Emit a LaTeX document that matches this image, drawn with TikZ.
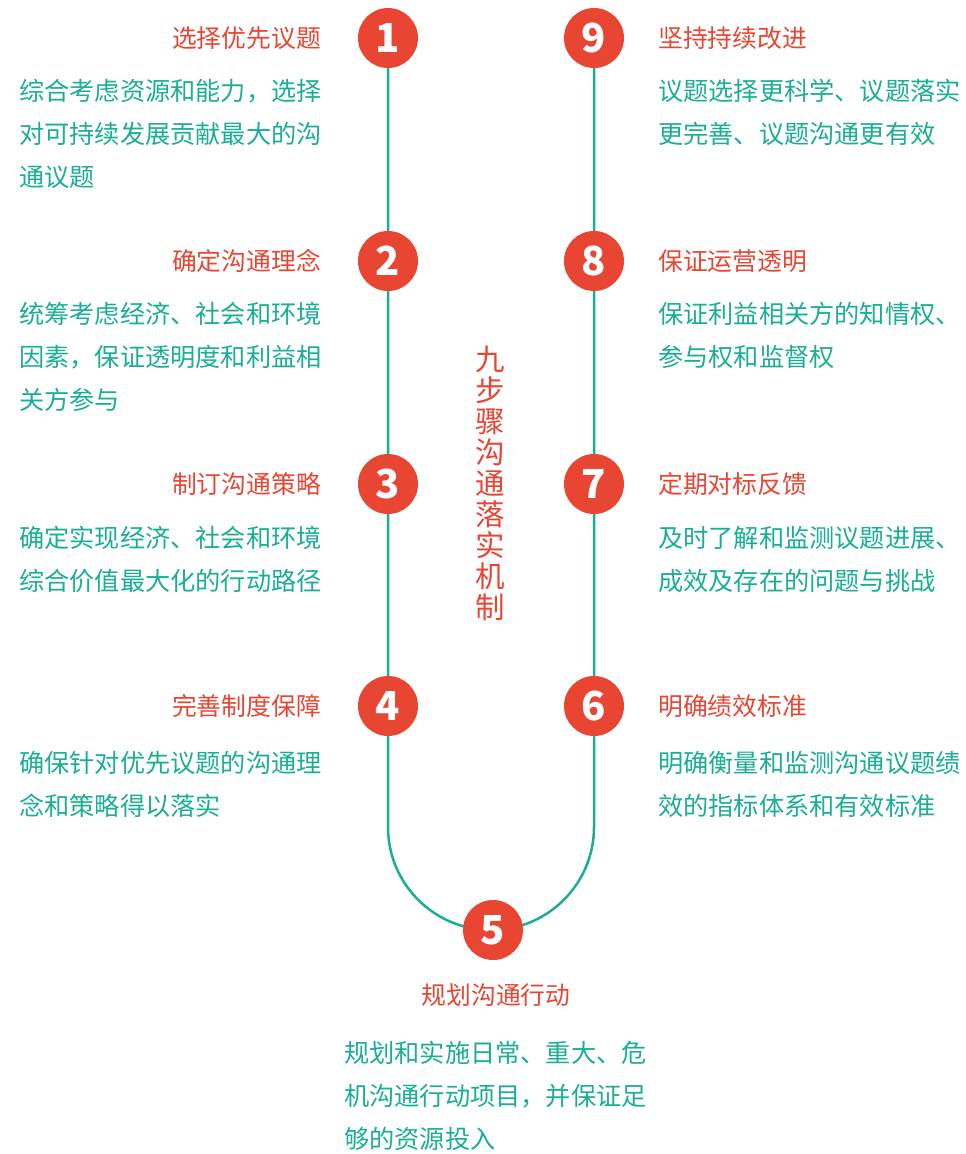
\documentclass[tikz,border=0pt]{standalone}
\usepackage{fontspec}
\setmainfont{Noto Sans CJK SC}
\usetikzlibrary{backgrounds}
\definecolor{stepred}{HTML}{E84532}
\definecolor{stepgreen}{HTML}{1AAE94}
\tikzset{
	numdot/.style={circle, fill=stepred, minimum size=60pt, inner sep=0pt,
		text=white, font=\fontsize{40}{40}\selectfont\bfseries},
	track/.style={draw=stepgreen, line width=2.5pt},
	heading/.style={text=stepred, font=\fontsize{24.8}{24.8}\selectfont, inner sep=0pt},
	body/.style={text=stepgreen, font=\fontsize{25.2}{43}\selectfont, inner sep=0pt,
		align=left, anchor=north west},
}

\begin{document}
\begin{tikzpicture}[x=1pt, y=1pt]
	\useasboundingbox (0,0) rectangle (966,-1154);
	% Schritte
	\foreach \num/\x/\y in {1/388/38, 2/388/261, 3/388/484, 4/388/706, 5/493/930,
		6/594/706, 7/594/484, 8/594/261, 9/594/38}
		\node[numdot] (n\num) at (\x, -\y) {\num};
	% Linie
	\coordinate (bl) at (388, -827);
	\coordinate (br) at (594, -827);
	\begin{scope}[on background layer]
		\draw[track] (n1.center) -- (n2) -- (n3) -- (n4) -- (bl)
			arc[start angle=180, end angle=360, radius=103] -- (n6) -- (n7) -- (n8)
			-- (n9.center);
	\end{scope}
	% Titel
	\node[text=stepred, font=\fontsize{29.5}{31}\selectfont, align=center,
		inner sep=0pt] (mech) at (490, -483) {九\\步\\骤\\沟\\通\\落\\实\\机\\制};

	% links
	\node[heading, anchor=east] (h1) at (321, -38) {选择优先议题};
	\node[body] (b1) at (19, -79) {综合考虑资源和能力，选择\\对可持续发展贡献最大的沟\\通议题};
	\node[heading, anchor=east] (h2) at (321, -261) {确定沟通理念};
	\node[body] (b2) at (19, -302) {统筹考虑经济、社会和环境\\因素，保证透明度和利益相\\关方参与};
	\node[heading, anchor=east] (h3) at (321, -484) {制订沟通策略};
	\node[body] (b3) at (19, -526) {确定实现经济、社会和环境\\综合价值最大化的行动路径};
	\node[heading, anchor=east] (h4) at (321, -706) {完善制度保障};
	\node[body] (b4) at (19, -751) {确保针对优先议题的沟通理\\念和策略得以落实};

	% unten
	\node[heading] (h5) at (496, -995) {规划沟通行动};
	\node[body] (b5) at (344, -1041) {规划和实施日常、重大、危\\机沟通行动项目，并保证足\\够的资源投入};

	% rechts
	\node[heading, anchor=west] (h6) at (658, -706) {明确绩效标准};
	\node[body] (b6) at (658, -751) {明确衡量和监测沟通议题绩\\效的指标体系和有效标准};
	\node[heading, anchor=west] (h7) at (658, -484) {定期对标反馈};
	\node[body] (b7) at (658, -526) {及时了解和监测议题进展、\\成效及存在的问题与挑战};
	\node[heading, anchor=west] (h8) at (658, -261) {保证运营透明};
	\node[body] (b8) at (658, -302) {保证利益相关方的知情权、\\参与权和监督权};
	\node[heading, anchor=west] (h9) at (658, -38) {坚持持续改进};
	\node[body] (b9) at (658, -79) {议题选择更科学、议题落实\\更完善、议题沟通更有效};
\end{tikzpicture}
\end{document}
